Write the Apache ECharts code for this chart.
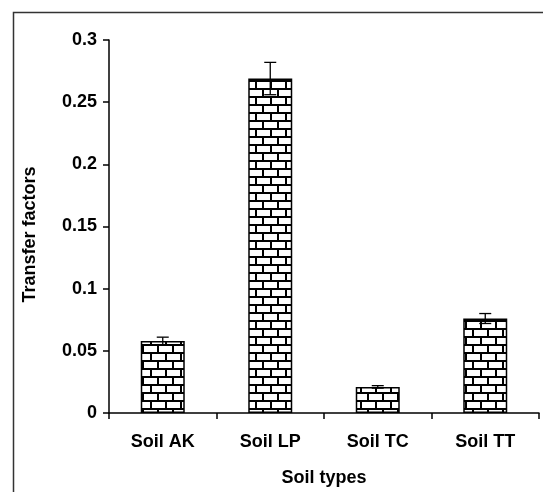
<!DOCTYPE html>
<html><head><meta charset="utf-8">
<script src="https://cdn.jsdelivr.net/npm/echarts@6/dist/echarts.min.js"></script>
<style>html,body{margin:0;padding:0;background:#fff}#c{width:543px;height:492px}</style>
</head><body><div id="c"></div>
<script>
const categories = ['Soil AK', 'Soil LP', 'Soil TC', 'Soil TT'];
const values = [0.058, 0.269, 0.021, 0.076];
const errors = [0.003, 0.013, 0.001, 0.004];
const yTicks = [0, 0.05, 0.1, 0.15, 0.2, 0.25, 0.3];

function brick() {
  const c = document.createElement('canvas');
  c.width = 15; c.height = 16;
  const g = c.getContext('2d');
  g.fillStyle = '#fff'; g.fillRect(0, 0, 15, 16);
  g.fillStyle = '#000';
  g.fillRect(0, 0, 15, 2);
  g.fillRect(0, 8, 15, 2);
  g.fillRect(0, 0, 2, 8);
  g.fillRect(7, 8, 2, 8);
  return c;
}

const font = '"Liberation Sans", Arial, sans-serif';
const chart = echarts.init(document.getElementById('c'), null, {renderer: 'canvas'});
chart.setOption({
  animation: false,
  backgroundColor: '#fff',
  graphic: [{type: 'rect', shape: {x: 13.5, y: 12.5, width: 700, height: 700}, style: {fill: 'none', stroke: '#333', lineWidth: 1.5}, silent: true}],
  grid: {left: 109, right: 4, top: 40, bottom: 78},
  xAxis: {
    type: 'category', data: categories,
    name: 'Soil types', nameLocation: 'middle', nameGap: 56,
    nameTextStyle: {fontFamily: font, fontWeight: 'bold', fontSize: 18, color: '#000'},
    axisLine: {lineStyle: {color: '#000', width: 1.5}},
    axisTick: {show: true, length: 6, lineStyle: {color: '#000', width: 1.5}},
    axisLabel: {fontFamily: font, fontWeight: 'bold', fontSize: 18, color: '#000', margin: 20}
  },
  yAxis: {
    type: 'value', min: 0, max: 0.3, interval: 0.05,
    name: 'Transfer factors', nameLocation: 'middle', nameGap: 70, nameRotate: 90,
    nameTextStyle: {fontFamily: font, fontWeight: 'bold', fontSize: 18, color: '#000', padding: [0, 16, 0, 0]},
    axisLine: {show: true, lineStyle: {color: '#000', width: 1.5}},
    axisTick: {show: true, length: 6, lineStyle: {color: '#000', width: 1.5}},
    splitLine: {show: false},
    axisLabel: {fontFamily: font, fontWeight: 'bold', fontSize: 18, color: '#000', margin: 12,
      formatter: v => { const t = yTicks.find(x => Math.abs(x - v) < 1e-9); return t === undefined ? '' : String(t); }}
  },
  series: [{
    type: 'bar', data: values, barWidth: 44,
    itemStyle: {color: {image: brick(), repeat: 'repeat'}, borderColor: '#000', borderWidth: 1.5}
  }, {
    type: 'custom',
    data: values.map((v, i) => [i, v - errors[i], v + errors[i]]),
    renderItem: (params, api) => {
      const lo = api.coord([api.value(0), api.value(1)]);
      const hi = api.coord([api.value(0), api.value(2)]);
      const w = 6;
      const st = {stroke: '#000', lineWidth: 1.3};
      return {type: 'group', children: [
        {type: 'line', shape: {x1: hi[0], y1: hi[1], x2: lo[0], y2: lo[1]}, style: st},
        {type: 'line', shape: {x1: hi[0] - w, y1: hi[1], x2: hi[0] + w, y2: hi[1]}, style: st},
        {type: 'line', shape: {x1: lo[0] - w, y1: lo[1], x2: lo[0] + w, y2: lo[1]}, style: st}
      ]};
    },
    z: 10
  }]
});
</script></body></html>
